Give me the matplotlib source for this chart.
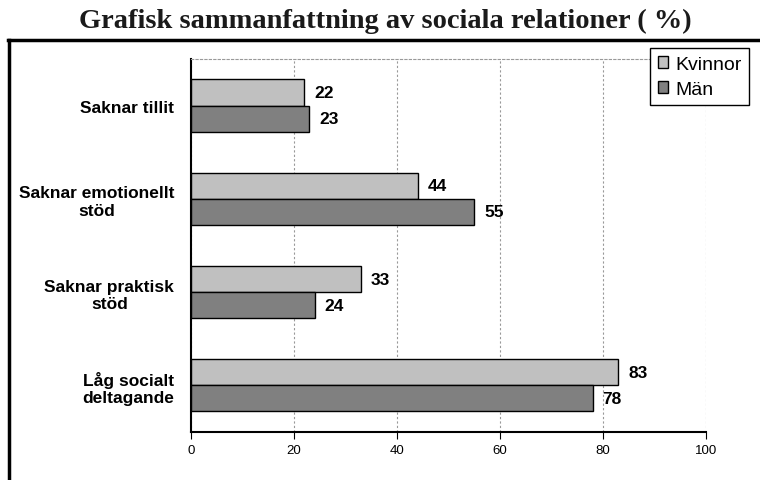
import matplotlib.pyplot as plt
from matplotlib.lines import Line2D
import numpy as np

categories = ['Saknar tillit', 'Saknar emotionellt\nstöd', 'Saknar praktisk\nstöd',
              'Låg socialt\ndeltagande']
kvinnor = [22, 44, 33, 83]
man = [23, 55, 24, 78]
series_names = ['Kvinnor', 'Män']
colors = ['#c0c0c0', '#808080']

fig = plt.figure(figsize=(7.6, 4.81), dpi=100)
ax = fig.add_axes([0.2513, 0.0998, 0.6776, 0.7755])

# categories run top to bottom
y = np.arange(len(categories))[::-1]
h = 0.28
for vals, off, col in [(kvinnor, h / 2, colors[0]), (man, -h / 2, colors[1])]:
    ax.barh(y + off, vals, height=h, color=col, edgecolor='black', linewidth=1.0, zorder=3)
    for yy, v in zip(y + off, vals):
        ax.text(v + 1.9, yy, str(v), va='center', ha='left', fontsize=12.5,
                fontweight='bold', family='Liberation Sans')

ax.set_xlim(0, 100)
ax.set_ylim(-0.5, len(categories) - 0.5)
ax.set_xticks([0, 20, 40, 60, 80, 100])
ax.tick_params(axis='x', labelsize=9.5, length=5, direction='out', pad=4)
ax.set_yticks(y)
ax.set_yticklabels(categories, fontsize=12.5, fontweight='bold', family='Liberation Sans',
                   ha='right', multialignment='center')
ax.tick_params(axis='y', length=0, pad=12)
for lbl in ax.get_xticklabels():
    lbl.set_family('Liberation Sans')

ax.grid(axis='x', linestyle=(0, (2, 2)), color='#999999', linewidth=0.8, zorder=0)
ax.spines['left'].set_linewidth(1.5)
ax.spines['bottom'].set_linewidth(1.5)
ax.spines['top'].set_linestyle((0, (2, 2)))
ax.spines['top'].set_color('#999999')
ax.spines['top'].set_linewidth(0.8)
ax.spines['right'].set_visible(False)

handles = [plt.Rectangle((0, 0), 1, 1, facecolor=c, edgecolor='black', linewidth=1.0)
           for c in colors]
leg = fig.legend(handles, series_names, loc='upper left', bbox_to_anchor=(0.855, 0.898),
                 borderaxespad=0, prop={'family': 'Liberation Sans', 'size': 14},
                 frameon=True, fancybox=False, handlelength=0.55, handleheight=0.55,
                 handletextpad=0.35, borderpad=0.4, labelspacing=0.4, edgecolor='black',
                 framealpha=1)
leg.get_frame().set_linewidth(1.0)

# outer frame: top and left edges
fig.add_artist(Line2D([0.0105, 1.0], [0.915, 0.915], color='black', linewidth=2.5))
fig.add_artist(Line2D([0.0118, 0.0118], [0.0, 0.915], color='black', linewidth=2.5))

fig.text(0.507, 0.956, 'Grafisk sammanfattning av sociala relationer ( %)', ha='center',
         va='center', fontsize=20.5, fontweight='bold', family='Liberation Serif',
         color='#1a1a1a')

fig.savefig('out.png', dpi=100)
